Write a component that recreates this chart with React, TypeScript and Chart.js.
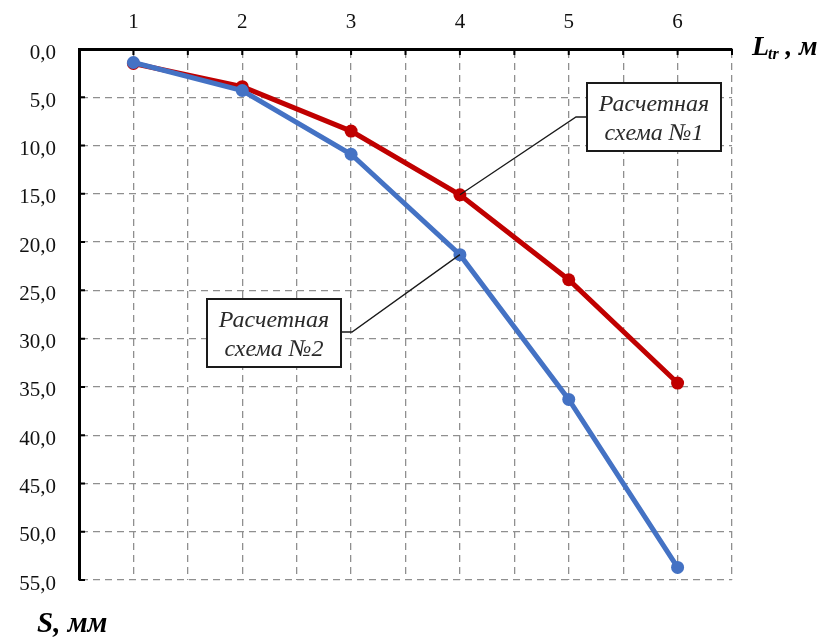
import React, { useEffect, useRef } from "react";
import { Chart, registerables } from "chart.js";

Chart.register(...registerables);

// Tunnel length, m
const lengths = [1, 2, 3, 4, 5, 6];
// Settlement S, mm — design scheme №1
const scheme1 = [1.5, 3.9, 8.5, 15.1, 23.9, 34.6];
// Settlement S, mm — design scheme №2
const scheme2 = [1.4, 4.3, 10.9, 21.3, 36.3, 53.7];

const RED = "#C00000";
const BLUE = "#4472C4";
const SERIF = "'Liberation Serif', 'Times New Roman', serif";

// inward tick marks on the top and left axes
const innerTicks = {
  id: "innerTicks",
  beforeDatasetsDraw(chart: any) {
    const { ctx, chartArea, scales } = chart;
    ctx.save();
    ctx.strokeStyle = "#000";
    ctx.lineWidth = 2;
    ctx.beginPath();
    for (const t of scales.x.ticks) {
      const px = scales.x.getPixelForValue(t.value);
      ctx.moveTo(px, chartArea.top);
      ctx.lineTo(px, chartArea.top + 6);
    }
    for (const t of scales.y.ticks) {
      const py = scales.y.getPixelForValue(t.value);
      ctx.moveTo(chartArea.left, py);
      ctx.lineTo(chartArea.left + 6, py);
    }
    ctx.stroke();
    ctx.restore();
  },
};

// callout boxes, leader lines and axis titles
const callouts = {
  id: "callouts",
  afterDraw(chart: any) {
    const { ctx, scales } = chart;
    const drawBox = (
      bx: number, by: number, bw: number, bh: number,
      lines: string[], edge: [number, number], elbow: [number, number], target: [number, number]
    ) => {
      ctx.save();
      ctx.strokeStyle = "#1a1a1a";
      ctx.lineWidth = 1.3;
      ctx.beginPath();
      ctx.moveTo(edge[0], edge[1]);
      ctx.lineTo(elbow[0], elbow[1]);
      ctx.lineTo(target[0], target[1]);
      ctx.stroke();
      ctx.fillStyle = "#fff";
      ctx.fillRect(bx, by, bw, bh);
      ctx.lineWidth = 2;
      ctx.strokeRect(bx, by, bw, bh);
      ctx.fillStyle = "#2a2a2a";
      ctx.font = `italic 24px ${SERIF}`;
      ctx.textAlign = "center";
      ctx.textBaseline = "alphabetic";
      lines.forEach((s, i) => {
        ctx.fillText(s, bx + bw / 2, by + 28 + i * 29);
      });
      ctx.restore();
    };

    const p1x = scales.x.getPixelForValue(lengths[3]);
    const p1y = scales.y.getPixelForValue(scheme1[3]);
    drawBox(587, 83, 134, 68, ["Расчетная", "схема №1"], [587, 117], [576, 117], [p1x, p1y]);

    const p2x = scales.x.getPixelForValue(lengths[3]);
    const p2y = scales.y.getPixelForValue(scheme2[3]);
    drawBox(207, 299, 134, 68, ["Расчетная", "схема №2"], [341, 332], [352, 332], [p2x, p2y]);

    // axis titles
    ctx.save();
    ctx.fillStyle = "#000";
    ctx.textBaseline = "alphabetic";
    ctx.textAlign = "left";
    ctx.font = `bold italic 28px ${SERIF}`;
    ctx.fillText("L", 752, 55);
    let x = 752 + ctx.measureText("L").width;
    ctx.font = `bold italic 16px ${SERIF}`;
    ctx.fillText("tr", x - 1, 59);
    x += ctx.measureText("tr").width - 1;
    ctx.font = `bold italic 27px ${SERIF}`;
    ctx.fillText(" , м", x, 55);
    ctx.font = `bold italic 29px ${SERIF}`;
    ctx.fillText("S, мм", 37, 632);
    ctx.restore();
  },
};

export default function App() {
  const ref = useRef<HTMLCanvasElement | null>(null);

  useEffect(() => {
    if (!ref.current) return;
    const gridLine = { drawTicks: false, color: "#8f8f8f", lineWidth: 1.3 };
    const axisLine = { display: true, color: "#000", width: 3, dash: [7, 5] };
    const chart = new Chart(ref.current, {
      type: "line",
      data: {
        datasets: [
          {
            label: "Расчетная схема №2",
            data: lengths.map((x, i) => ({ x, y: scheme2[i] })),
            borderColor: BLUE,
            backgroundColor: BLUE,
            borderWidth: 5,
            pointRadius: 6.5,
            pointBorderWidth: 0,
          },
          {
            label: "Расчетная схема №1",
            data: lengths.map((x, i) => ({ x, y: scheme1[i] })),
            borderColor: RED,
            backgroundColor: RED,
            borderWidth: 5,
            pointRadius: 6.5,
            pointBorderWidth: 0,
          },
        ],
      },
      options: {
        animation: false,
        responsive: false,
        devicePixelRatio: 1,
        layout: { padding: { left: 0, top: 0, right: 97, bottom: 61 } },
        plugins: { legend: { display: false }, tooltip: { enabled: false } },
        scales: {
          x: {
            type: "linear",
            position: "top",
            min: 0.5,
            max: 6.5,
            afterFit: (s: any) => {
              s.height = 49;
            },
            ticks: {
              stepSize: 0.5,
              autoSkip: false,
              maxRotation: 0,
              padding: 14,
              color: "#111",
              font: { family: SERIF, size: 21 },
              callback: (v: any) => (Number.isInteger(v) ? String(v) : ""),
            },
            grid: gridLine,
            border: axisLine,
          },
          y: {
            type: "linear",
            reverse: true,
            min: 0,
            max: 55,
            afterFit: (s: any) => {
              s.width = 79;
            },
            ticks: {
              stepSize: 5,
              padding: 23,
              labelOffset: 4,
              color: "#111",
              font: { family: SERIF, size: 21 },
              callback: (v: any) => Number(v).toFixed(1).replace(".", ","),
            },
            grid: gridLine,
            border: axisLine,
          },
        },
      } as any,
      plugins: [innerTicks, callouts],
    });
    return () => chart.destroy();
  }, []);

  return (
    <div style={{ position: "fixed", left: 0, top: 0, width: 829, height: 641, background: "#fff" }}>
      <canvas ref={ref} width={829} height={641} />
    </div>
  );
}
